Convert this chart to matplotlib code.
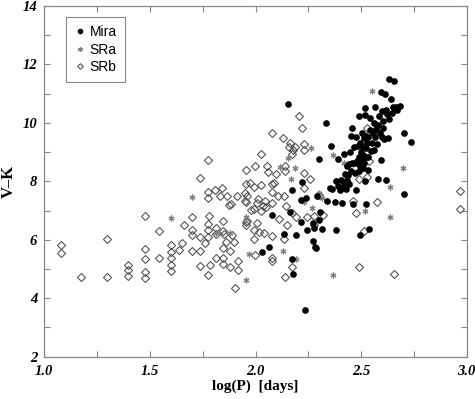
import numpy as np
import matplotlib
matplotlib.use("Agg")
import matplotlib.pyplot as plt
from matplotlib.ticker import MultipleLocator, FormatStrFormatter

# SRb (open diamonds)
srb_logp = [1.077, 1.077, 1.174, 1.299, 1.299, 1.398, 1.398, 1.398, 1.475, 1.475,
            1.475, 1.475, 1.475, 1.543, 1.543, 1.600, 1.600, 1.600, 1.600, 1.600,
            1.637, 1.652, 1.660, 1.698, 1.698, 1.698, 1.698, 1.735, 1.738, 1.738,
            1.739, 1.761, 1.777, 1.776, 1.776, 1.776, 1.776, 1.776, 1.776, 1.782,
            1.785, 1.810, 1.812, 1.812, 1.815, 1.834, 1.842, 1.844, 1.844, 1.845,
            1.845, 1.845, 1.853, 1.858, 1.863, 1.874, 1.877, 1.880, 1.886, 1.891,
            1.896, 1.902, 1.912, 1.915, 1.915, 1.953, 1.953, 1.951, 1.951, 1.954,
            1.954, 1.954, 1.962, 1.962, 1.972, 1.978, 1.991, 1.994, 1.995, 1.995,
            1.998, 1.999, 2.005, 2.009, 2.014, 2.016, 2.024, 2.028, 2.028, 2.035,
            2.039, 2.046, 2.049, 2.054, 2.058, 2.077, 2.077, 2.077, 2.077, 2.077,
            2.077, 2.077, 2.088, 2.098, 2.107, 2.112, 2.128, 2.133, 2.134, 2.139,
            2.141, 2.141, 2.145, 2.150, 2.158, 2.161, 2.172, 2.174, 2.175, 2.178,
            2.188, 2.190, 2.204, 2.220, 2.228, 2.231, 2.228, 2.228, 2.246, 2.257,
            2.275, 2.278, 2.299, 2.319, 2.464, 2.475, 2.491, 2.512, 2.528, 2.539,
            2.575, 2.654, 2.967, 2.967, 2.528, 2.492]
srb_vk = [5.82, 5.55, 4.74, 6.02, 4.72, 5.13, 4.96, 4.77, 6.80, 5.70,
          5.33, 4.90, 4.68, 6.30, 5.39, 5.83, 5.57, 5.38, 5.15, 4.92,
          5.64, 5.90, 6.50, 6.77, 6.33, 6.18, 5.60, 5.63, 6.11, 5.10,
          8.10, 5.88, 8.72, 7.64, 7.44, 6.55, 6.35, 6.10, 4.80, 6.80,
          5.13, 7.69, 6.40, 6.21, 5.38, 7.51, 7.77, 6.65, 5.72, 6.30,
          5.37, 5.16, 6.19, 5.91, 7.51, 7.19, 5.08, 5.60, 7.21, 6.18,
          5.91, 4.34, 7.50, 5.29, 4.98, 8.40, 7.92, 7.33, 7.59, 7.28,
          6.61, 6.50, 7.49, 6.65, 7.95, 7.01, 6.35, 7.80, 7.06, 6.04,
          5.49, 8.51, 6.58, 7.26, 7.39, 6.28, 6.98, 8.95, 7.87, 7.16,
          6.23, 7.33, 7.11, 8.53, 8.33, 9.67, 7.92, 7.62, 7.26, 6.14,
          5.26, 5.38, 7.94, 8.26, 7.49, 6.72, 9.48, 6.02, 7.49, 8.53,
          8.34, 4.72, 7.16, 6.52, 9.18, 9.30, 8.95, 6.93, 5.07, 9.08,
          9.19, 6.78, 10.25, 9.84, 9.27, 9.08, 8.28, 7.77, 6.78, 8.09,
          6.82, 6.52, 7.52, 6.86, 7.33, 6.90, 5.08, 6.31, 8.15, 8.70,
          7.29, 4.83, 7.68, 7.04, 9.83, 8.09]

# SRa (asterisks)
sra_logp = [1.600, 1.698, 1.814, 1.880, 1.956, 1.967, 1.954, 2.114, 2.131, 2.152,
            2.166, 2.188, 2.191, 2.228, 2.262, 2.267, 2.299, 2.314, 2.365, 2.365,
            2.417, 2.461, 2.520, 2.554, 2.638, 2.638, 2.698]
sra_vk = [6.75, 7.47, 6.23, 6.22, 6.79, 5.51, 4.63, 8.48, 5.61, 8.81,
          8.09, 8.44, 5.36, 7.28, 9.14, 7.09, 7.60, 7.44, 8.90, 4.80,
          8.62, 8.61, 6.98, 11.08, 7.82, 6.78, 8.44]

# Mira (filled circles)
mira_logp = [2.153, 2.175, 2.172, 2.178, 2.134, 2.164, 2.077, 2.066, 2.030, 2.194,
             2.218, 2.215, 2.216, 2.234, 2.240, 2.246, 2.270, 2.270, 2.278, 2.281,
             2.287, 2.292, 2.299, 2.303, 2.305, 2.313, 2.335, 2.338, 2.357, 2.351,
             2.362, 2.378, 2.379, 2.382, 2.389, 2.393, 2.398, 2.404, 2.409, 2.409,
             2.417, 2.420, 2.425, 2.430, 2.433, 2.434, 2.437, 2.441, 2.442, 2.449,
             2.452, 2.453, 2.456, 2.456, 2.461, 2.466, 2.471, 2.472, 2.474, 2.477,
             2.480, 2.483, 2.488, 2.490, 2.490, 2.493, 2.494, 2.496, 2.499, 2.501,
             2.504, 2.507, 2.509, 2.509, 2.512, 2.515, 2.517, 2.520, 2.520, 2.521,
             2.523, 2.524, 2.525, 2.528, 2.531, 2.532, 2.535, 2.539, 2.540, 2.543,
             2.547, 2.551, 2.556, 2.559, 2.561, 2.564, 2.567, 2.571, 2.575, 2.578,
             2.582, 2.586, 2.591, 2.594, 2.595, 2.597, 2.601, 2.603, 2.606, 2.609,
             2.614, 2.616, 2.619, 2.621, 2.627, 2.630, 2.632, 2.641, 2.646, 2.651,
             2.657, 2.664, 2.669, 2.683, 2.705, 2.705, 2.736]
mira_vk = [10.65, 7.72, 5.34, 4.83, 6.21, 6.95, 6.84, 5.75, 5.59, 6.15,
           7.98, 7.35, 6.61, 3.59, 7.44, 6.32, 6.57, 5.95, 6.40, 5.75,
           5.73, 7.49, 6.69, 8.77, 6.96, 6.37, 10.00, 7.34, 9.22, 7.77,
           7.74, 7.28, 6.35, 8.00, 8.76, 7.85, 7.71, 8.06, 7.77, 7.26,
           7.94, 8.94, 8.26, 7.74, 8.51, 8.06, 8.23, 8.60, 7.92, 8.99,
           8.34, 9.56, 9.82, 8.62, 7.23, 9.19, 8.28, 8.62, 7.71, 9.53,
           8.68, 9.22, 8.34, 10.25, 8.85, 8.51, 6.16, 9.31, 8.99, 8.74,
           9.65, 8.45, 9.19, 8.90, 9.48, 8.62, 8.01, 10.50, 10.28, 8.85,
           9.56, 7.23, 9.13, 9.31, 8.85, 8.40, 9.53, 6.38, 10.16, 9.76,
           9.03, 9.31, 9.65, 9.08, 10.01, 10.56, 9.53, 9.78, 9.27, 8.09,
           9.92, 10.22, 9.67, 11.04, 8.74, 9.53, 10.39, 10.05, 9.82, 9.44,
           11.00, 8.06, 10.44, 10.31, 9.48, 10.12, 11.51, 10.82, 10.35, 10.54,
           11.45, 10.55, 10.44, 10.58, 9.65, 7.58, 9.35]

fig = plt.figure(figsize=(4.75, 3.99), dpi=100)
ax = fig.add_axes([0.0933, 0.106, 0.8892, 0.879])

ax.plot(srb_logp, srb_vk, linestyle="none", marker="D", ms=3.6,
        mfc="none", mec="#555555", mew=0.8, label="SRb")
ax.plot(sra_logp, sra_vk, linestyle="none", marker=(6, 2, 0), ms=4.2,
        mec="#808080", mew=0.9, label="SRa")
ax.plot(mira_logp, mira_vk, linestyle="none", marker="o", ms=3.8,
        mfc="black", mec="black", label="Mira")

ax.set_xlim(1.0, 3.0)
ax.set_ylim(2, 14)
ax.xaxis.set_major_locator(MultipleLocator(0.5))
ax.xaxis.set_minor_locator(MultipleLocator(0.25))
ax.yaxis.set_major_locator(MultipleLocator(2))
ax.yaxis.set_minor_locator(MultipleLocator(1))
ax.xaxis.set_major_formatter(FormatStrFormatter("%.1f"))
ax.tick_params(which="both", direction="in", top=True, right=True,
               color="#888888", width=0.8, length=4)
ax.tick_params(axis="x", pad=6)
ax.tick_params(axis="y", pad=5)
for lab in ax.get_xticklabels() + ax.get_yticklabels():
    lab.set_family("Liberation Serif")
    lab.set_fontweight("bold")
    lab.set_fontstyle("italic")
    lab.set_fontsize(10.5)
for s in ax.spines.values():
    s.set_color("#888888")
    s.set_linewidth(0.9)

ax.set_xlabel("log(P)  [days]", family="Liberation Serif", fontweight="bold",
              fontsize=11, labelpad=1)
ax.set_ylabel("V\u2013K", family="Liberation Serif", fontweight="bold",
              fontsize=12, labelpad=4)

h, l = ax.get_legend_handles_labels()
leg = ax.legend(h[::-1], l[::-1], loc="upper left", bbox_to_anchor=(0.051, 0.969),
                borderaxespad=0, fancybox=False, framealpha=1, edgecolor="#888888",
                prop={"family": "Liberation Sans", "size": 10},
                handlelength=0.8, handletextpad=0.3, labelspacing=0.25,
                borderpad=0.6, markerscale=0.8)
leg.get_frame().set_linewidth(0.8)

fig.savefig("out.png", dpi=100)
